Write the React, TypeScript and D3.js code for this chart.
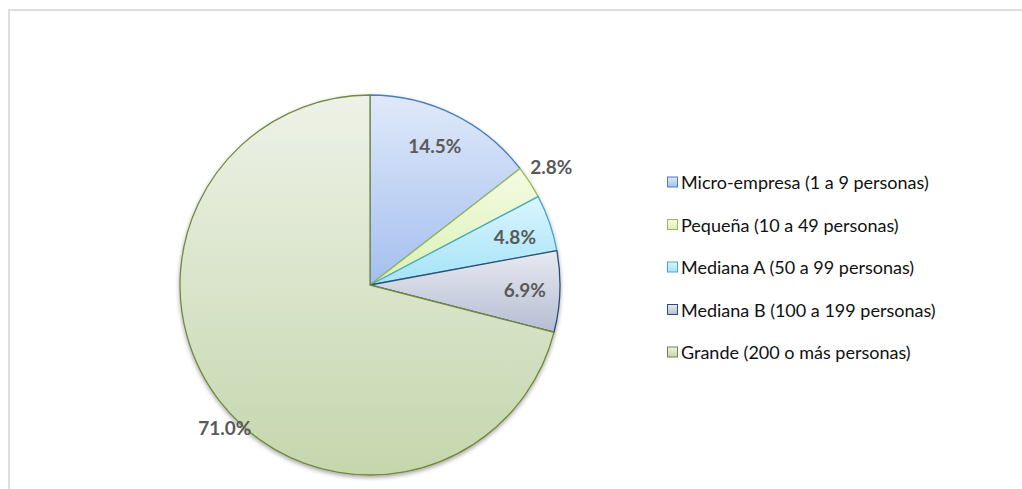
import React from "react";
import * as d3 from "d3";

const categories = [
  "Micro-empresa (1 a 9 personas)",
  "Pequeña (10 a 49 personas)",
  "Mediana A (50 a 99 personas)",
  "Mediana B (100 a 199 personas)",
  "Grande (200 o más personas)",
];
const values = [14.5, 2.8, 4.8, 6.9, 71.0];
const labels = ["14.5%", "2.8%", "4.8%", "6.9%", "71.0%"];

const fillTop = ["#e0e9f9", "#f4fbe4", "#daf5fd", "#e8eaf1", "#eef2e7"];
const fillBottom = ["#a4bfef", "#dcf0b4", "#a3e3f7", "#b6bdd2", "#c5d6ad"];
const strokes = ["#4a7ebb", "#98b954", "#46aac5", "#2c4d75", "#71893f"];

// label placement (radius factor, angle shift in degrees)
const labelPlacement = [
  { r: 0.81, da: -1.2 },
  { r: 1.14, da: -0.4 },
  { r: 0.805, da: 0.4 },
  { r: 0.815, da: -0.5 },
  { r: 1.07, da: -6.6 },
];

export default function App() {
  const W = 1022;
  const H = 489;
  const cx = 370;
  const cy = 285;
  const R = 190;

  const pie = d3.pie<number>().sort(null).value((d) => d);
  const arcs = pie(values);
  const arc = d3.arc<d3.PieArcDatum<number>>().innerRadius(0).outerRadius(R);

  const legendX = 667;
  const legendY0 = 182;
  const legendStep = 42.5;

  return (
    <svg
      width={W}
      height={H}
      style={{ position: "absolute", left: 0, top: 0, display: "block" }}
      xmlns="http://www.w3.org/2000/svg"
    >
      <defs>
        {values.map((_, i) => (
          <linearGradient key={i} id={`g${i}`} x1="0" y1="0" x2="0" y2="1">
            <stop offset="0" stopColor={fillTop[i]} />
            <stop offset="1" stopColor={fillBottom[i]} />
          </linearGradient>
        ))}
        <filter id="sh" x="-20%" y="-20%" width="140%" height="140%">
          <feDropShadow dx="0" dy="2" stdDeviation="2" floodColor="#000" floodOpacity="0.35" />
        </filter>
      </defs>
      <rect x={0} y={0} width={W} height={H} fill="#fff" />
      <rect x={9} y={10} width={1030} height={500} fill="none" stroke="#dedede" strokeWidth={2} />

      <g transform={`translate(${cx},${cy})`}>
        <g filter="url(#sh)">
          {arcs.map((a, i) => (
            <path key={i} d={arc(a) || ""} fill={`url(#g${i})`} stroke={strokes[i]} strokeWidth={1.3} strokeLinejoin="round" />
          ))}
        </g>
        {arcs.map((a, i) => {
          const p = labelPlacement[i];
          const ang = (a.startAngle + a.endAngle) / 2 + (p.da * Math.PI) / 180;
          const r = R * p.r;
          const x = r * Math.sin(ang);
          const y = -r * Math.cos(ang);
          return (
            <text
              key={i}
              x={x}
              y={y}
              textAnchor="middle"
              dominantBaseline="central"
              fontFamily="Lato, 'Open Sans', sans-serif"
              fontWeight="bold"
              fontSize={19}
              fill="#5a5a5a"
            >
              {labels[i]}
            </text>
          );
        })}
      </g>

      {categories.map((c, i) => {
        const y = legendY0 + i * legendStep;
        return (
          <g key={i}>
            <rect x={legendX + 0.5} y={y - 5} width={10} height={10} fill={`url(#g${i})`} stroke={strokes[i]} strokeWidth={1} />
            <text
              x={legendX + 14}
              y={y}
              dominantBaseline="central"
              fontFamily="Lato, 'Open Sans', sans-serif"
              fontSize={18}
              fill="#111"
            >
              {c}
            </text>
          </g>
        );
      })}
    </svg>
  );
}
